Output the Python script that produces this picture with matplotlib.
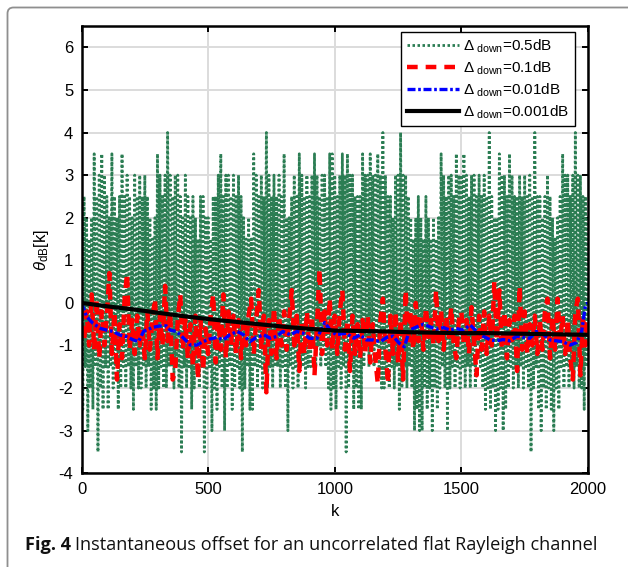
import numpy as np
import matplotlib
matplotlib.use('Agg')
import matplotlib.pyplot as plt
from matplotlib.patches import FancyBboxPatch

plt.rcParams['font.family'] = 'Liberation Sans'
plt.rcParams['mathtext.fontset'] = 'custom'
plt.rcParams['mathtext.rm'] = 'Liberation Sans'
plt.rcParams['mathtext.it'] = 'Liberation Sans:italic'
plt.rcParams['axes.unicode_minus'] = False

# theta_dB[k] for the four step sizes
k_green = np.arange(0, 2001, 5)
green = [
    2, -2.5, 2.5, -1.5, 2, -3, 1.5, -2, 2, -2.5, 3.5, -1.5, 2.5, -3.5, 3, -2, 3.5, -2.5, 3, -1.5,
    2.5, -2.5, 2, -1.5, 3.5, -2, 2.5, -1.5, 2, -2.5, 2.5, -2, 3.5, -1.5, 2.5, -2, 3, -1.5, 2.5, -2,
    2, -2.5, 3, -1.5, 2.5, -2, 3, -2, 2.5, -1.5, 3, -2, 2.5, -1.5, 2, -2.5, 1.5, -2, 2, -2.5,
    3.5, -2, 3, -1.5, 2.5, -2, 3, -2, 4, -1.5, 3, -1.5, 2.5, -2, 3, -1.5, 3, -2, 2.5, -3.5,
    2, -1.5, 3, -2, 2.5, -1.5, 2, -2.5, 2.5, -2, 2, -1.5, 1.5, -2, 2.5, -1.5, 2.5, -3.5, 2, -2,
    2, -1.5, 1.5, -3, 2.5, -2, 2.5, -2.5, 3, -1.5, 3.5, -2, 2.5, -3, 3, -2, 3, -1.5, 2.5, -2.5,
    3, -2, 2.5, -1.5, 3, -2, 2.5, -3.5, 2, -2, 1.5, -1.5, 2, -2.5, 1.5, -2.5, 3.5, -1.5, 3, -2,
    2.5, -1.5, 3, -2, 2.5, -1.5, 4, -2, 3, -1.5, 2.5, -2, 3, -1.5, 2.5, -1.5, 3, -2, 2.5, -1.5,
    3.5, -2, 2, -3, 2, -1.5, 2.5, -2, 3, -1.5, 2.5, -2, 3.5, -1.5, 3, -1.5, 2.5, -2, 3, -1.5,
    2.5, -1.5, 3, -1, 3.5, -1.5, 3, -1, 2.5, -1.5, 3, -1, 3, -1.5, 2.5, -2, 3.5, -2.5, 3.5, -2,
    3, -2.5, 2.5, -1.5, 3, -2, 3.5, -1.5, 3, -3.5, 3.5, -2, 3, -1.5, 3, -2.5, 2.5, -2, 2.5, -2.5,
    2.5, -2.5, 3.5, -1.5, 3, -1, 3, -1.5, 3.5, -1, 3, -1.5, 3, -1, 3.5, -1.5, 3, -2, 4, -2,
    3, -1.5, 2.5, -2, 2.5, -1.5, 2, -2, 3, -1.5, 3, -2.5, 4, -2, 3, -1.5, 3, -2, 2.5, -1.5,
    2, -2, 1.5, -3, 2, -2.5, 2.5, -3, 2, -3, 1.5, -2, 2.5, -2.5, 2, -2, 1.5, -3, 2, -2,
    1.5, -2.5, 2, -2, 3.5, -1.5, 3, -2, 2.5, -3, 3, -2, 3, -1.5, 2.5, -2, 3.5, -1.5, 3, -2,
    3, -1.5, 3.5, -2, 3, -1.5, 2.5, -2, 3, -1.5, 3, -2, 2.5, -1, 3, -1.5, 2.5, -2, 3, -2.5,
    2.5, -2, 4, -2.5, 2.5, -2, 2, -3, 2, -2.5, 3.5, -2, 3, -3, 3, -2.5, 2.5, -2, 3.5, -1.5,
    3, -2, 2.5, -1.5, 2.5, -2, 3, -1.5, 2.5, -2, 3, -1.5, 2.5, -2, 3, -3.5, 2.5, -2, 4, -1.5,
    2.5, -2.5, 2.5, -3, 2, -2, 2.5, -2.5, 3, -2, 2.5, -2.5, 2, -3, 1.5, -2, 2, -2.5, 2.5, -1.5,
    3.5, -2, 3, -1.5, 3, -2, 2.5, -1.5, 3, -2, 4, -1.5, 3, -2, 3, -2, 2.5, -2.5, 2.5, -1.5,
    2,
]

k_red = np.arange(0, 2001, 10)
red = [
    -0.1, -0.9, -0.2, -1.0, 0.2, -1.1, 0.1, -1.3, -0.2, -1.0,
    -0.3, 0.7, -1.2, -0.2, -1.8, -0.5, -1.3, 0.1, 0.7, -1.1,
    -0.4, -1.2, -0.3, -1.0, -0.6, -1.3, -0.2, -1.1, -0.4, 0.1,
    -1.3, -0.3, -1.0, 0.4, -0.9, -0.2, -1.8, -1.6, -0.4, 0.2,
    -1.1, -0.4, -1.3, -0.5, -1.5, -0.3, -1.8, -0.4, -1.6, -0.6,
    -1.2, -0.3, 0.2, -1.4, -0.4, -1.1, 0.2, -1.3, -0.2, -1.0,
    -0.3, -1.2, -0.4, -1.3, -0.5, -1.0, -0.3, 0.1, -1.2, -0.4,
    0.3, -1.1, -0.3, -2.1, -0.4, -1.2, -0.1, -1.3, -0.3, -1.0,
    -0.2, -1.1, -0.4, 0.3, -1.0, -0.3, -1.6, -0.4, -1.2, -0.2,
    -1.1, -0.3, -1.7, -0.5, 0.8, -1.2, -0.2, -1.0, 0.1, -1.1,
    -0.3, -1.2, -0.2, 0.3, -1.1, -0.4, -1.6, -0.3, -1.2, -0.5,
    -1.3, -0.4, -1.2, -0.3, -1.4, -0.5, -1.3, -1.9, -0.4, 0.1,
    -1.1, -1.9, -0.3, -1.2, -0.2, -1.4, -0.4, -1.8, 0.3, -1.0,
    -0.2, -1.1, 0.0, -0.9, -0.3, -1.1, -0.1, -0.8, -0.4, -1.0,
    0.3, -0.9, -0.2, -1.1, -0.3, -0.8, -0.1, -1.0, -1.3, -0.4,
    -0.2, -1.0, -0.4, -1.2, -0.1, -0.9, -1.7, -0.3, -1.1, -0.2,
    -1.2, -0.3, -1.0, 0.5, -0.9, 0.3, -1.1, -0.2, -1.3, -0.4,
    -1.0, -0.3, -1.6, 0.4, -1.1, -0.2, -1.2, -0.5, -1.0, -0.3,
    -1.2, -0.4, -1.1, -0.2, 0.1, -1.3, -0.3, -1.1, 0.1, -0.9,
    -0.3, -1.2, -0.4, -1.3, -1.8, -0.2, 0.1, -1.7, -0.3, -1.0,
    -0.4,
]

k_blue = [0, 20, 45, 75, 100, 125, 150, 180, 205, 225, 245, 255, 285, 310, 335,
          350, 375, 400, 430, 455, 480, 505, 535, 560, 585, 615, 640, 665, 690, 720,
          745, 770, 795, 825, 850, 875, 900, 930, 960, 980, 1005, 1045, 1075, 1100, 1125,
          1150, 1180, 1205, 1230, 1255, 1275, 1295, 1325, 1350, 1375, 1400, 1430, 1455, 1480, 1505,
          1535, 1560, 1585, 1615, 1640, 1665, 1690, 1720, 1745, 1770, 1795, 1825, 1850, 1875, 1900,
          1930, 1955, 1975, 1990, 2000]
blue = [0.0, -0.32, -0.48, -0.6, -0.64, -0.67, -0.75, -0.8, -0.87, -0.91, -0.67, -0.64, -0.57, -0.54, -0.54,
        -0.64, -0.67, -0.81, -0.99, -0.99, -0.91, -0.85, -0.81, -0.87, -0.75, -0.67, -0.75, -0.91, -0.81, -0.75,
        -0.83, -0.79, -0.67, -0.75, -0.67, -0.71, -0.83, -0.83, -0.46, -0.62, -0.75, -0.71, -0.83, -0.75, -0.87,
        -0.87, -0.91, -0.81, -0.78, -0.95, -1.03, -0.64, -0.56, -0.5, -0.56, -0.62, -0.58, -0.64, -0.6, -0.64,
        -0.52, -0.67, -0.78, -0.87, -0.89, -0.86, -0.89, -0.78, -0.81, -0.83, -0.67, -0.75, -0.87, -0.89, -0.91,
        -0.99, -0.93, -0.67, -0.05, 0.0]

k_black = np.arange(0, 2001, 100)
black = [0.0, -0.08, -0.15, -0.23, -0.31, -0.38, -0.44, -0.5, -0.56, -0.61, -0.65,
         -0.66, -0.67, -0.69, -0.7, -0.71, -0.71, -0.72, -0.73, -0.74, -0.75]

labels = [r'$\Delta_{\ \mathrm{down}}$=0.5dB', r'$\Delta_{\ \mathrm{down}}$=0.1dB',
          r'$\Delta_{\ \mathrm{down}}$=0.01dB', r'$\Delta_{\ \mathrm{down}}$=0.001dB']

fig = plt.figure(figsize=(6.28, 5.67), dpi=100)
fig.patch.set_facecolor('white')

# rounded frame around the figure panel
frame = FancyBboxPatch((0.075, -0.5), 7.0, 5.595 + 0.5,
                       boxstyle='round,pad=0,rounding_size=0.06',
                       transform=fig.dpi_scale_trans, facecolor='none',
                       edgecolor='#8f8f8f', linewidth=1.3, zorder=0)
fig.patches.append(frame)

ax = fig.add_axes([0.1298, 0.1653, 0.8065, 0.7888])

ax.plot(k_green, green, color='#2b7d53', linewidth=2.0, dashes=(0.9, 0.9), label=labels[0])
ax.plot(k_red, red, color='#ff0000', linewidth=3.2, dashes=(2.4, 1.8), label=labels[1])
ax.plot(k_blue, blue, color='#0000ff', linewidth=2.4, dashes=(2.4, 0.8, 0.8, 0.8), label=labels[2])
ax.plot(k_black, black, color='black', linewidth=3.0, label=labels[3])

ax.set_xlim(0, 2000)
ax.set_ylim(-4, 6.5)
ax.set_xticks([0, 500, 1000, 1500, 2000])
ax.set_yticks(range(-4, 7))
ax.grid(True, color='#dcdcdc', linewidth=1.4)
ax.set_axisbelow(True)
ax.tick_params(direction='in', length=4, width=1.4, top=True, right=True,
               labelsize=12, pad=6)
for s in ax.spines.values():
    s.set_linewidth(1.8)

ax.set_xlabel('k', fontsize=12, labelpad=5)
ax.set_ylabel(r'$\theta_{\mathrm{dB}}$[k]', fontsize=12, labelpad=5)

leg = ax.legend(loc='upper right', bbox_to_anchor=(0.9737, 0.987), borderaxespad=0,
                fontsize=11, handlelength=3.4, handletextpad=0.3, labelspacing=0.3,
                borderpad=0.35, fancybox=False, framealpha=1, edgecolor='black')
leg.get_frame().set_linewidth(1.0)

# caption: bold figure number followed by the regular text
cap_y = (567 - 550) / 567
t1 = fig.text(25 / 628, cap_y, 'Fig. 4', fontsize=13.1, fontweight='bold',
              family='Open Sans', color='#111111')
fig.canvas.draw()
bb = t1.get_window_extent()
fig.text(bb.x1 / fig.bbox.width + 4 / 628, cap_y,
         'Instantaneous offset for an uncorrelated flat Rayleigh channel',
         fontsize=13.1, family='Open Sans', color='#111111')

fig.savefig('out.png', dpi=100)
